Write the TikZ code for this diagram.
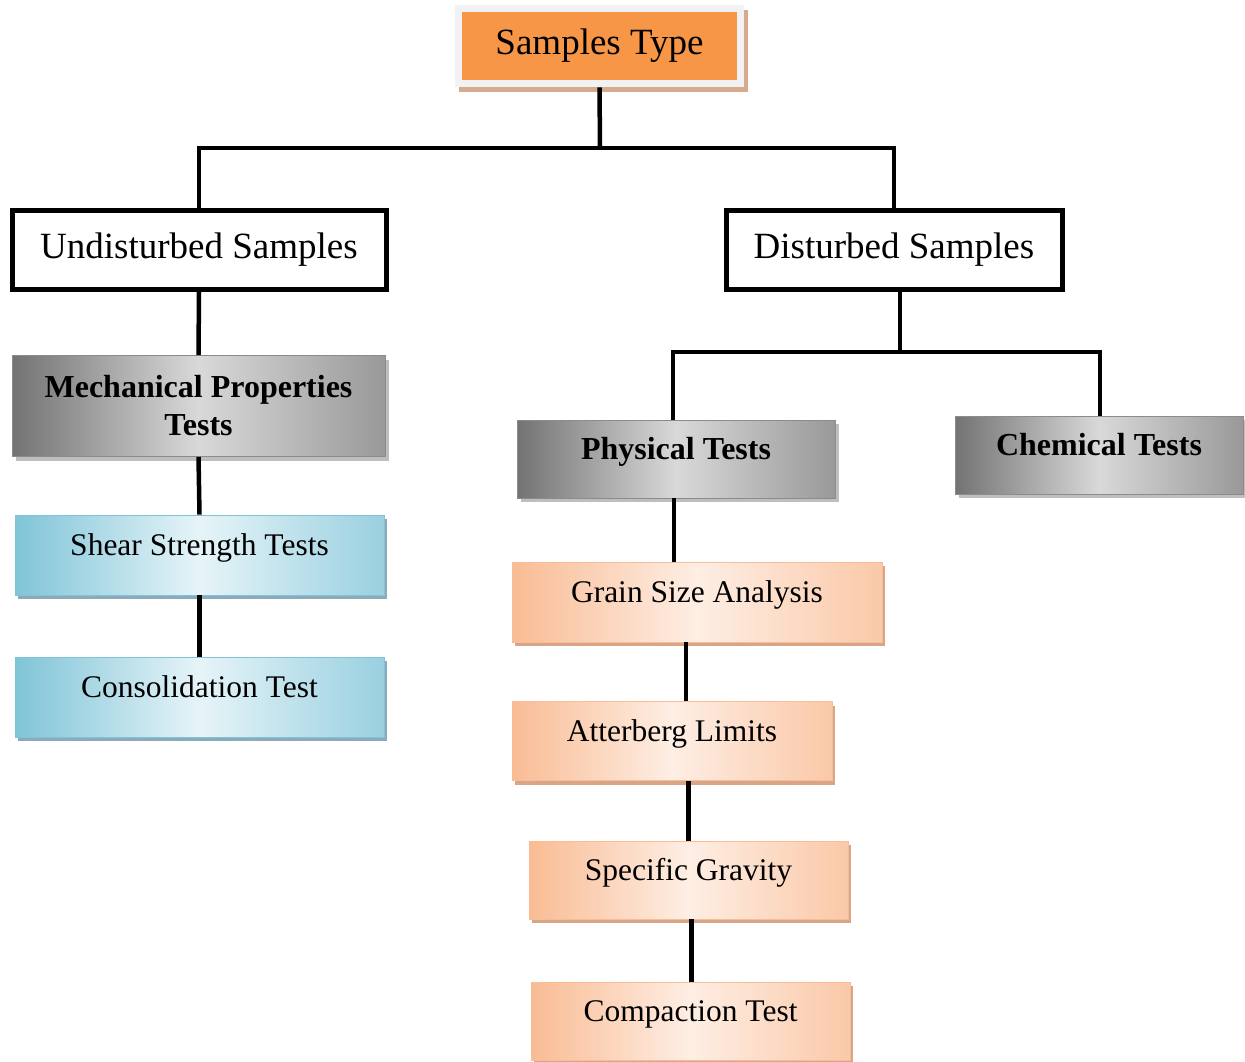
\documentclass[tikz,border=0pt]{standalone}
\usepackage{fontspec}
\setmainfont{Liberation Serif}
\usetikzlibrary{shadows,fit,backgrounds,calc}
\definecolor{orMain}{RGB}{247,150,70}
\definecolor{frameC}{RGB}{242,242,245}
\definecolor{tanC}{RGB}{214,170,140}
\definecolor{blueD}{RGB}{128,196,216}
\definecolor{blueL}{RGB}{230,244,248}
\definecolor{blueS}{RGB}{140,170,185}
\definecolor{orD}{RGB}{249,188,148}
\definecolor{orL}{RGB}{254,238,228}
\definecolor{orS}{RGB}{215,165,135}
\definecolor{grS}{RGB}{190,190,190}
\tikzset{
  big/.style={font=\fontsize{37}{42}\selectfont},
  small/.style={font=\fontsize{31.5}{36}\selectfont, text height=12pt, text depth=12pt},
  boldf/.style={font=\fontsize{32}{38}\selectfont\bfseries},
  thickbox/.style={draw=black, line width=5pt, fill=white, inner sep=0pt, big},
  greybox/.style={draw=black!45, line width=0.8pt, inner sep=0pt, boldf,
     left color=black!55, right color=black!40, middle color=black!15,
     drop shadow={shadow xshift=4pt, shadow yshift=-4pt, fill=grS, opacity=1}},
  bluebox/.style={draw=blueD, line width=0.8pt, inner sep=0pt, small,
     left color=blueD, right color=blueD!75!blueL, middle color=blueL,
     drop shadow={shadow xshift=3pt, shadow yshift=-4pt, fill=blueS, opacity=1}},
  orbox/.style={draw=orD, line width=0.8pt, inner sep=0pt, small,
     left color=orD, right color=orD!75!orL, middle color=orL,
     drop shadow={shadow xshift=3pt, shadow yshift=-4pt, fill=orS, opacity=1}},
  conn/.style={line width=4.5pt, draw=black}
}
\begin{document}
\begin{tikzpicture}[x=1pt,y=-1pt]
\useasboundingbox (0,0) rectangle (1245,1061);
% top
\node[fill=orMain, inner sep=0pt, minimum width=275pt, minimum height=68pt, big] (st) at (599.5,46) {Samples Type};
\begin{scope}[on background layer]
\node[fit=(st), inner sep=7pt, fill=frameC,
  drop shadow={shadow xshift=4pt, shadow yshift=-5pt, fill=tanC, opacity=1}] (stf) {};
\end{scope}
% level 1
\node[thickbox, minimum width=374pt, minimum height=79pt] (us) at (199,250) {Undisturbed Samples};
\node[thickbox, minimum width=336pt, minimum height=79pt] (ds) at (894,250) {Disturbed Samples};
% left branch
\node[greybox, minimum width=373pt, minimum height=101pt, align=center] (mp) at (198.5,406) {Mechanical Properties\\Tests};
\node[bluebox, minimum width=369pt, minimum height=80pt] (ss) at (199.5,555) {Shear Strength Tests};
\node[bluebox, minimum width=369pt, minimum height=80pt] (cs) at (199.5,697) {Consolidation Test};
% right branch
\node[greybox, minimum width=318pt, minimum height=78pt, text height=12pt, text depth=12pt] (pt) at (676,459) {Physical Tests};
\node[greybox, minimum width=288pt, minimum height=78pt, text height=12pt, text depth=12pt] (ch) at (1099,455) {Chemical Tests};
\node[orbox, minimum width=370pt, minimum height=80pt] (gs) at (697,602) {Grain Size Analysis};
\node[orbox, minimum width=320pt, minimum height=79pt] (ab) at (672,741) {Atterberg Limits};
\node[orbox, minimum width=319pt, minimum height=78pt] (sg) at (688.5,880) {Specific Gravity};
\node[orbox, minimum width=319pt, minimum height=78pt] (cp) at (690.5,1021) {Compaction Test};
% connectors
\coordinate (j1) at (600,148);
\coordinate (j2) at (900,352);
\draw[conn] (stf.south) -- (j1);
\draw[conn] (us.north) |- (j1) -| (ds.north);
\draw[conn] ([xshift=6]ds.south) -- (j2);
\draw[conn] ([xshift=-3]pt.north) |- (j2) -| ([xshift=1]ch.north);
\draw[conn] (us.south) -- (mp.north);
\draw[conn] (mp.south) -- (ss.north);
\draw[conn] (ss.south) -- (cs.north);
\draw[conn] ([xshift=-2]pt.south) -- ([xshift=-2]pt.south |- gs.north);
\draw[conn] ([xshift=-11]gs.south) -- ([xshift=-11]gs.south |- ab.north);
\draw[conn] (sg.north |- ab.south) -- (sg.north);
\draw[conn] ([xshift=1]cp.north |- sg.south) -- ([xshift=1]cp.north);
\end{tikzpicture}
\end{document}
